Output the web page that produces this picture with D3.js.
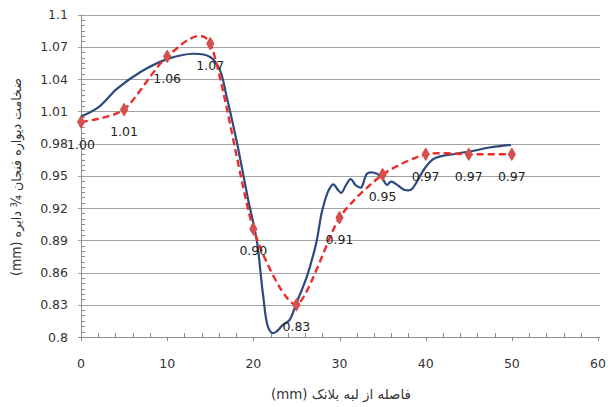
<!DOCTYPE html>
<html><head><meta charset="utf-8">
<script src="https://cdn.jsdelivr.net/npm/d3@7"></script>
<style>body{margin:0;background:#fff}svg{display:block}</style>
</head><body>
<script>
// ---- data ----
const redX = [0, 5, 10, 15, 20, 25, 30, 35, 40, 45, 50];
const redY = [1.000, 1.0115, 1.061, 1.073, 0.9005, 0.830, 0.911, 0.951, 0.970, 0.970, 0.970];
const blueX = [0, 2, 4.2, 7, 10, 13, 15, 16.1, 16.9, 17.6, 18.2, 19.4, 20.4, 21.1, 21.7, 22.2, 22.6, 23.4, 24.2, 25.0, 26.2, 27.3, 28.0, 28.8, 29.3, 29.8, 30.2, 30.8, 31.3, 31.9, 32.5, 33.2, 33.9, 34.8, 35.5, 36.0, 36.7, 37.5, 38.3, 38.9, 39.9, 41.0, 43.5, 45.4, 47.4, 49.9];
const blueY = [1.005, 1.0135, 1.031, 1.047, 1.0585, 1.0635, 1.0605, 1.0487, 1.0238, 0.9993, 0.977, 0.9276, 0.890, 0.841, 0.8095, 0.8037, 0.8045, 0.811, 0.8158, 0.8316, 0.856, 0.8875, 0.918, 0.9375, 0.942, 0.937, 0.934, 0.942, 0.947, 0.941, 0.939, 0.952, 0.953, 0.9495, 0.9415, 0.9446, 0.9415, 0.937, 0.937, 0.9434, 0.957, 0.966, 0.9705, 0.973, 0.9763, 0.9788];
const xTicks = [0, 10, 20, 30, 40, 50, 60];
const yTicks = [0.8, 0.83, 0.86, 0.89, 0.92, 0.95, 0.98, 1.01, 1.04, 1.07, 1.1];
const xTitle = "فاصله از لبه بلانک (mm)";
const yTitle = "ضخامت دیواره فنجان ¾ دایره (mm)";

// ---- layout ----
const W = 610, H = 407;
const L = 81, R = 598, T = 14.5, B = 337;
const svg = d3.select("body").append("svg").attr("width", W).attr("height", H);
const x = d3.scaleLinear().domain([0, 60]).range([L, R]);
const y = d3.scaleLinear().domain([0.8, 1.1]).range([B, T]);
const font = "'DejaVu Sans', sans-serif";

// gridlines
svg.append("g").selectAll("line").data(yTicks.filter(v => v > 0.8)).join("line")
  .attr("x1", L - 3).attr("x2", R + 2)
  .attr("y1", d => Math.round(y(d)) + 0.5).attr("y2", d => Math.round(y(d)) + 0.5)
  .attr("stroke", "#a3a3a3").attr("stroke-width", 1);

// minor ticks y
const yMinor = d3.range(0, 61).map(i => 0.8 + i * 0.005).filter((v, i) => i % 6 !== 0);
svg.append("g").selectAll("line").data(yMinor).join("line")
  .attr("x1", L).attr("x2", L + 4)
  .attr("y1", d => Math.round(y(d)) + 0.5).attr("y2", d => Math.round(y(d)) + 0.5)
  .attr("stroke", "#8c8c8c");
// minor ticks x
const xMinor = d3.range(0, 61, 2).filter(v => v % 10 !== 0);
svg.append("g").selectAll("line").data(xMinor).join("line")
  .attr("x1", d => Math.round(x(d)) + 0.5).attr("x2", d => Math.round(x(d)) + 0.5)
  .attr("y1", B - 4).attr("y2", B)
  .attr("stroke", "#8c8c8c");
// major ticks x
svg.append("g").selectAll("line").data(xTicks).join("line")
  .attr("x1", d => Math.round(x(d)) + 0.5).attr("x2", d => Math.round(x(d)) + 0.5)
  .attr("y1", B).attr("y2", B + 4)
  .attr("stroke", "#8c8c8c");

// axes lines
svg.append("line").attr("x1", Math.round(L) + 0.5).attr("x2", Math.round(L) + 0.5)
  .attr("y1", T).attr("y2", B + 0.5).attr("stroke", "#8c8c8c");
svg.append("line").attr("x1", L - 3).attr("x2", R + 2)
  .attr("y1", Math.round(B) + 0.5).attr("y2", Math.round(B) + 0.5).attr("stroke", "#8c8c8c");

// tick labels
svg.append("g").selectAll("text").data(yTicks).join("text")
  .attr("x", 68).attr("y", d => y(d)).attr("dy", "0.36em")
  .attr("text-anchor", "end").attr("font-family", font).attr("font-size", 12.5)
  .attr("fill", "#333").text(d => String(+d.toFixed(2)));
svg.append("g").selectAll("text").data(xTicks).join("text")
  .attr("x", d => x(d)).attr("y", 368)
  .attr("text-anchor", "middle").attr("font-family", font).attr("font-size", 12.5)
  .attr("fill", "#333").text(d => d);

// titles (scaled along their direction to match reference length)
function fitTitle(g, str, target, size) {
  const t = g.append("text").attr("text-anchor", "middle").attr("direction", "rtl")
    .attr("font-family", font).attr("font-size", size).attr("fill", "#333").text(str);
  const len = t.node().getComputedTextLength();
  t.attr("transform", `scale(${target / len},1)`);
}
fitTitle(svg.append("g").attr("transform", "translate(341,399)"), xTitle, 140, 13.5);
fitTitle(svg.append("g").attr("transform", "translate(21,177) rotate(-90)"), yTitle, 198, 13.5);

// blue line
const blue = blueX.map((v, i) => [v, blueY[i]]);
svg.append("path").datum(blue)
  .attr("d", d3.line().x(d => x(d[0])).y(d => y(d[1])).curve(d3.curveCatmullRom.alpha(0.5)))
  .attr("fill", "none").attr("stroke", "#2d4a7c").attr("stroke-width", 2.2);

// red dashed line
const red = redX.map((v, i) => [v, redY[i]]);
svg.append("path").datum(red)
  .attr("d", d3.line().x(d => x(d[0])).y(d => y(d[1])).curve(d3.curveCardinal.tension(0.3)))
  .attr("fill", "none").attr("stroke", "#ee2a2a").attr("stroke-width", 2.4)
  .attr("stroke-dasharray", "7,4");

// markers
svg.append("g").selectAll("path").data(red).join("path")
  .attr("transform", d => `translate(${x(d[0])},${y(d[1])})`)
  .attr("d", d3.symbol().type(d3.symbolDiamond).size(38))
  .attr("fill", "#d4504e").attr("stroke", "#d4504e").attr("stroke-width", 1.5)
  .attr("stroke-linejoin", "round");

// data labels
svg.append("g").selectAll("text").data(red).join("text")
  .attr("x", d => x(d[0])).attr("y", d => y(d[1]) + 22).attr("dy", "0.36em")
  .attr("text-anchor", "middle").attr("font-family", font).attr("font-size", 12.5)
  .attr("fill", "#222").text(d => d[1].toFixed(2));
</script>
</body></html>
